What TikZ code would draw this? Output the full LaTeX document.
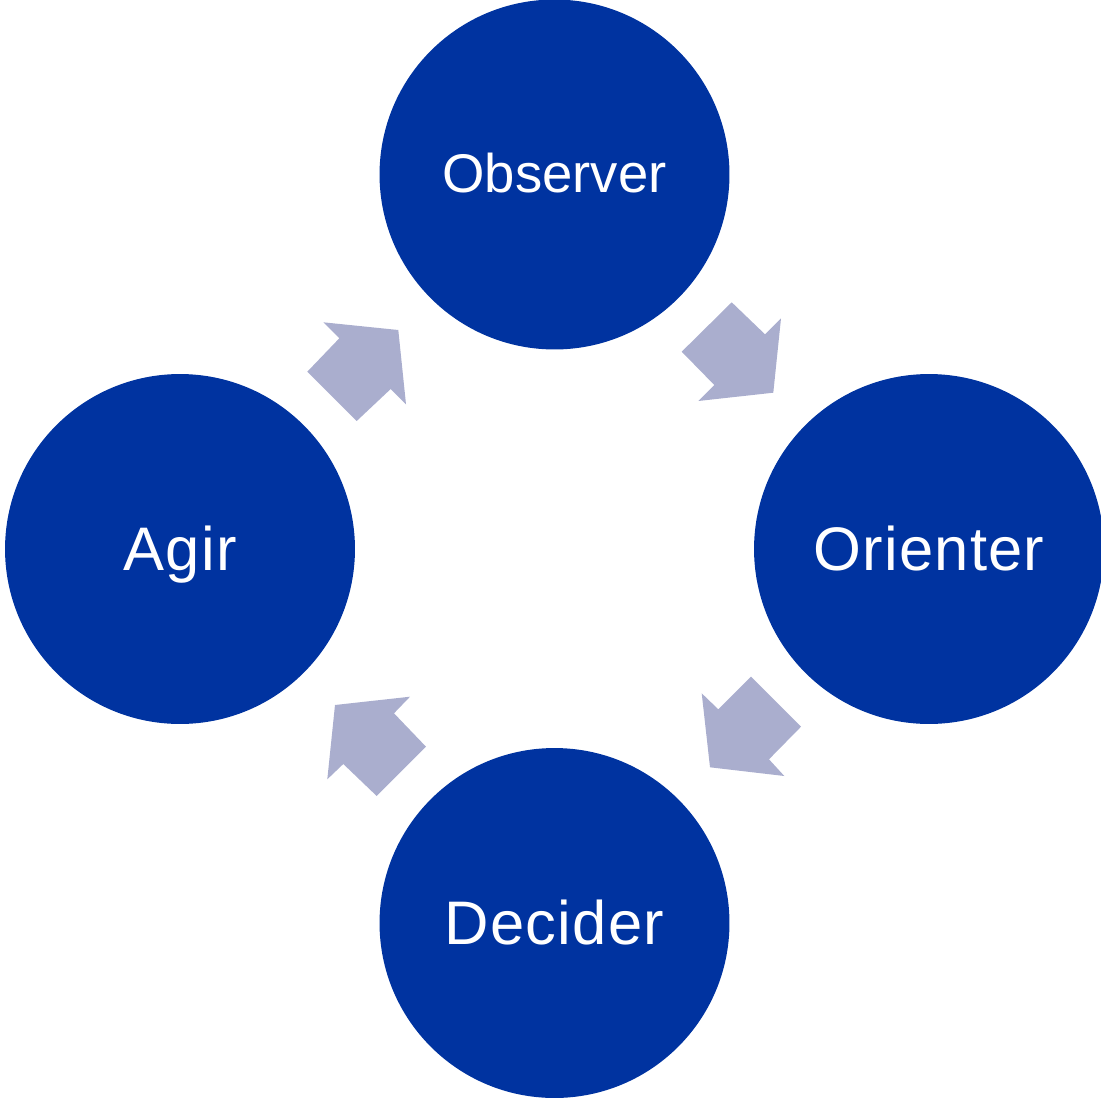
\documentclass[tikz,border=0pt]{standalone}
\usepackage{fontspec}
\setmainfont{Liberation Sans}
\definecolor{oodablue}{HTML}{0033A0}
\definecolor{oodaarrow}{HTML}{AAAECE}
\begin{document}
\begin{tikzpicture}[x=0.02cm,y=-0.02cm,
		phase/.style={circle, fill=oodablue, draw=none, minimum size=7cm, inner sep=0pt, text=white, text height=24pt, text depth=0pt, font=\fontsize{35}{40}\selectfont\addfontfeature{LetterSpace=2}},
		blockarrow/.style={fill=oodaarrow, draw=none}]
			\useasboundingbox (0,0) rectangle (1101,1098);
			\node[phase, text height=21pt, font=\fontsize{31}{36}\selectfont] (obs) at (554.5,174.5) {Observer};
			\node[phase] (ori) at (929,549) {Orienter};
			\node[phase] (dec) at (554.5,923) {Decider};
			\node[phase] (agi) at (180,549) {Agir};
			\fill[blockarrow] (731.7,302.3) -- (765,334.3) -- (781,318.3) -- (773.3,392.7) -- (698.3,401) -- (714.3,385) -- (681.7,351.7) -- cycle;
			\fill[blockarrow] (751,676.7) -- (801,726.7) -- (769,759.3) -- (784.3,776) -- (710,767.3) -- (701.7,693.3) -- (718.3,709.3) -- cycle;
			\fill[blockarrow] (410,696.7) -- (394,713.3) -- (426,746.7) -- (376.7,796) -- (343.3,764) -- (327.3,779.3) -- (335,705) -- cycle;
			\fill[blockarrow] (323.3,322.3) -- (398.3,330) -- (406,404.3) -- (390.7,389) -- (356.7,421) -- (307.3,371.7) -- (339.3,338.3) -- cycle;
		\end{tikzpicture}
\end{document}
